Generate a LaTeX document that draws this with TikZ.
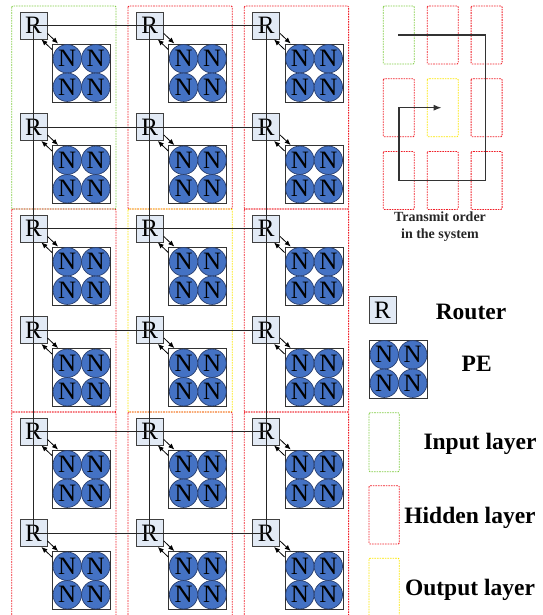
\documentclass[tikz,border=0pt]{standalone}
\usepackage{fontspec}
\setmainfont{Liberation Serif}
\usetikzlibrary{arrows.meta}
\definecolor{peblue}{RGB}{68,114,196}
\definecolor{peedge}{RGB}{40,62,110}
\definecolor{rfill}{RGB}{226,234,245}
\definecolor{ingreen}{RGB}{130,205,70}
\definecolor{hidred}{RGB}{240,30,40}
\definecolor{outyellow}{RGB}{250,230,0}
\begin{document}
\begin{tikzpicture}[x=1pt, y=-1pt,
  rt/.style={draw=black!75, fill=rfill, line width=0.9pt, minimum size=27pt, inner sep=0pt, font=\fontsize{25}{25}\selectfont},
  pe/.style={draw=black!80, fill=white, line width=0.9pt, minimum size=58pt, inner sep=0pt},
  nn/.style={circle, draw=peedge, fill=peblue, line width=0.7pt, minimum size=28.4pt, inner sep=0pt, font=\fontsize{25}{25}\selectfont},
  lay/.style={dash pattern=on 1.6pt off 1pt, line width=0.8pt, rounded corners=1pt},
  link/.style={draw=black!85, line width=0.9pt},
  tip/.style={-{Latex[length=6pt,width=5pt]}, line width=0.8pt},
  lbl/.style={font=\bfseries\fontsize{23.5}{24}\selectfont}]
  \useasboundingbox (0,0) rectangle (542,615);
  \clip (0,0) rectangle (542,615);
  \foreach \c/\i/\t/\b in {ingreen/0/6/209, hidred/1/6/209, hidred/2/6/209, hidred/0/209/412, outyellow/1/209/412, hidred/2/209/412, hidred/0/412/620, hidred/1/412/620, hidred/2/412/620}
    \draw[lay, draw=\c] (11.7+116.3*\i, \t) rectangle (116+116.3*\i, \b);
  \foreach \i in {0,1,2}
    \foreach \j in {0,...,5} {
      \node[rt] (r-\i-\j) at (33.5+116.3*\i, 25.5+101.5*\j) {R};
      \node[pe] (pe-\i-\j) at (81.5+116.3*\i, 73+101.5*\j) {};
      \foreach \a/\b [count=\k] in {-1/-1, 1/-1, -1/1, 1/1}
        \node[nn] (n-\i-\j-\k) at (81.5+116.3*\i+14.25*\a, 73+101.5*\j+14.25*\b) {N};
    }
  \foreach \i in {0,1,2}
    \draw[link] (r-\i-0.center) -- (r-\i-5.center);
  \foreach \j in {0,...,5}
    \draw[link] (r-0-\j.center) -- (r-2-\j.center);
  \foreach \i in {0,1,2}
    \foreach \j in {0,...,5} {
      \draw[tip] ([yshift=6pt]r-\i-\j.south east) -- ([xshift=6pt]pe-\i-\j.north west);
      \draw[tip] ([yshift=-6pt]pe-\i-\j.north west) -- ([xshift=-6pt]r-\i-\j.south east);
    }
  \foreach \c/\i/\k in {ingreen/0/0, hidred/1/0, hidred/2/0, hidred/0/1, outyellow/1/1, hidred/2/1, hidred/0/2, hidred/1/2, hidred/2/2}
    \draw[lay, draw=\c] (383.3+43.9*\i, 6+72.7*\k) rectangle ++(31,58);
  \coordinate (go) at (398.3,35);
  \coordinate (stop) at (441.7,107.7);
  \draw[draw=black!80, line width=1.3pt, -{Latex[length=8pt,width=6pt]}] (go) -- (485.7,35) -- (485.7,180.3) -- (399,180.3) -- (399,107.7) -- (stop);
  \node[font=\bfseries\fontsize{14}{17}\selectfont, align=center, text=black!85] (order) at (440,226.5) {Transmit order\\in the system};
  \node[rt] (leg-r) at (382.5,310) {R};
  \node[lbl, anchor=base] (leg-rt) at (471,319.5) {Router};
  \node[pe] (leg-pe) at (398.5,369) {};
  \foreach \a/\b [count=\k] in {-1/-1, 1/-1, -1/1, 1/1}
    \node[nn] (leg-n-\k) at (398.5+14.25*\a, 369+14.25*\b) {N};
  \node[lbl, anchor=base] (leg-pt) at (476.7,371) {PE};
  \draw[lay, draw=ingreen] (369,412.7) rectangle (399.3,471.7);
  \node[lbl, anchor=base] (leg-in) at (480,449.3) {Input layer};
  \draw[lay, draw=hidred] (369,485.7) rectangle (399.3,544);
  \node[lbl, anchor=base] (leg-hid) at (470,523.3) {Hidden layer};
  \draw[lay, draw=outyellow] (369,558.3) rectangle (399.3,620);
  \node[lbl, anchor=base] (leg-out) at (470,595) {Output layer};
\end{tikzpicture}
\end{document}
